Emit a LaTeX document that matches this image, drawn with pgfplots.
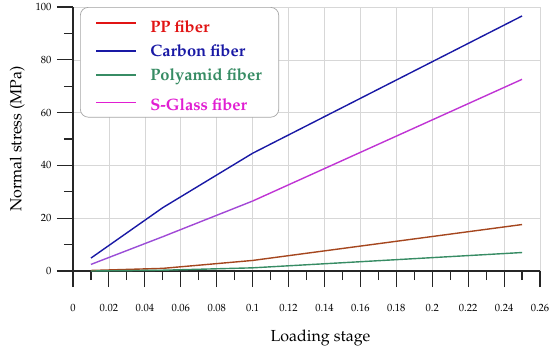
\documentclass[border=0pt]{standalone}
\usepackage[T1]{fontenc}
\usepackage{mathpazo}
\usepackage{pgfplots}
\pgfplotsset{compat=1.18}
\definecolor{ppline}{RGB}{165,70,30}
\definecolor{ppred}{RGB}{225,20,20}
\definecolor{carbon}{RGB}{25,25,165}
\definecolor{polyg}{RGB}{55,140,100}
\definecolor{sglass}{RGB}{225,30,210}
\definecolor{sglassp}{RGB}{150,80,215}
\definecolor{gridc}{RGB}{215,215,215}
\begin{document}
\begin{tikzpicture}[x=1pt,y=1pt]
\path[use as bounding box] (0,0) rectangle (550,-349);
\begin{axis}[
  scale only axis,
  width=467pt, height=264pt,
  at={(73pt,-271pt)}, anchor=south west,
  xmin=0, xmax=0.26, ymin=0, ymax=100,
  axis x line*=bottom, axis y line*=left,
  axis line style={line width=1.3pt, black!85},
  xtick={0,0.02,...,0.26},
  xticklabels={0,0.02,0.04,0.06,0.08,0.1,0.12,0.14,0.16,0.18,0.2,0.22,0.24,0.26},
  minor xtick={0.01,0.03,...,0.25},
  ytick={0,20,...,100},
  minor ytick={10,30,...,90},
  tick align=outside,
  major tick length=16pt, minor tick length=9pt,
  tick style={line width=1.1pt, black!85},
  grid=major,
  major grid style={gridc, line width=0.6pt},
  /pgf/number format/assume math mode=true,
  xticklabel style={font=\fontsize{10.5}{12}\selectfont, yshift=-14pt},
  yticklabel style={font=\fontsize{10.5}{12}\selectfont, xshift=-2pt},
  xlabel={Loading stage},
  ylabel={Normal stress (MPa)},
  xlabel style={font=\fontsize{16}{18}\selectfont, yshift=-11pt, xshift=14pt},
  ylabel style={font=\fontsize{16}{18}\selectfont, yshift=4pt},
  clip=false,
  legend cell align=left,
  legend style={at={(0.015,1.0)}, anchor=north west, draw=gray!70, rounded corners=8pt,
    font=\fontsize{16.5}{19}\selectfont\bfseries, inner xsep=15pt, inner ysep=3pt,
    row sep=6.5pt, line width=0.7pt},
  legend image code/.code={\draw[#1, line width=1.3pt] (0pt,0pt) -- (40pt,0pt); \path (52pt,0pt);},
]
\addplot[ppline, line width=1.4pt, forget plot] coordinates {(0.01,0.2) (0.05,1.0) (0.1,4.0) (0.25,17.6)};
\addplot[carbon, line width=1.4pt, forget plot] coordinates {(0.01,4.9) (0.05,24.0) (0.1,44.6) (0.25,96.6)};
\addplot[polyg, line width=1.4pt, forget plot] coordinates {(0.01,0.0) (0.05,0.3) (0.1,1.2) (0.25,7.0)};
\addplot[mesh, line width=1.4pt, point meta=x, colormap={sg}{color(0)=(sglassp) color(0.5)=(sglassp!70!sglass) color(1)=(sglass)}, forget plot]
  coordinates {(0.01,2.5) (0.05,13.0) (0.1,26.5) (0.25,72.6)};
\addlegendimage{ppred}
\addlegendentry{\rule{0pt}{20pt}\textcolor{ppred}{PP fiber}}
\addlegendimage{carbon}
\addlegendentry{\textcolor{carbon}{Carbon fiber}}
\addlegendimage{polyg}
\addlegendentry{\textcolor{polyg}{Polyamid fiber}}
\addlegendimage{sglass}
\addlegendentry{\rule{0pt}{18.5pt}\textcolor{sglass}{S-Glass fiber}}
\end{axis}
\end{tikzpicture}
\end{document}
